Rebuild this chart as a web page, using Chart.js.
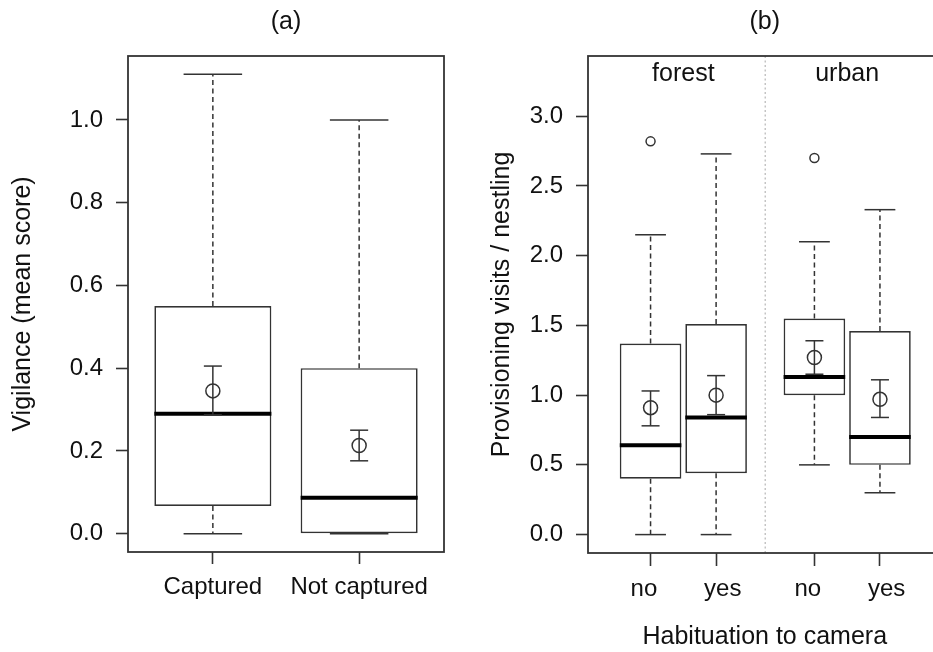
<!DOCTYPE html>
<html>
<head>
<meta charset="utf-8">
<script src="https://cdn.jsdelivr.net/npm/chart.js@4.4.1/dist/chart.umd.min.js"></script>
<style>
  html, body { margin: 0; padding: 0; background: #fff; overflow: hidden; width: 933px; height: 652px; }
  canvas { position: absolute; top: 0; }
</style>
</head>
<body>
<canvas id="chartA" width="460" height="652" style="left:0;width:460px;height:652px"></canvas>
<canvas id="chartB" width="490" height="652" style="left:460px;width:490px;height:652px"></canvas>
<script>
// ---- panel (a): vigilance ----
const vigGroups = ['Captured', 'Not captured'];
const vigPos = [1, 2];
const vigLow = [0, 0];
const vigQ1 = [0.067, 0.0];
const vigMedian = [0.29, 0.087];
const vigQ3 = [0.55, 0.40];
const vigHigh = [1.11, 1.0];
const vigMean = [0.345, 0.213];
const vigMeanLo = [0.287, 0.176];
const vigMeanHi = [0.405, 0.25];
const vigTicks = [0, 0.2, 0.4, 0.6, 0.8, 1.0];

// ---- panel (b): provisioning ----
const provHabit = ['no', 'yes', 'no', 'yes'];
const provPos = [1, 2, 3.5, 4.5];
const provLow = [0, 0, 0.5, 0.3];
const provQ1 = [0.40, 0.44, 1.0, 0.5];
const provMedian = [0.64, 0.84, 1.13, 0.70];
const provQ3 = [1.37, 1.51, 1.55, 1.46];
const provHigh = [2.15, 2.73, 2.10, 2.33];
const provOutX = [1, 3.5];
const provOutY = [2.82, 2.70];
const provMean = [0.91, 1.0, 1.27, 0.97];
const provMeanLo = [0.78, 0.86, 1.15, 0.84];
const provMeanHi = [1.03, 1.14, 1.39, 1.11];
const provTicks = [0, 0.5, 1.0, 1.5, 2.0, 2.5, 3.0];
const habitats = ['forest', 'urban'];
const habitatPos = [1.5, 4];
const habitatY = 3.3;
const habitatDivider = 2.75;

const FONT = '"Liberation Sans", Arial, sans-serif';
const INK = '#333';

// whiskers, medians, error bars, frame
const boxExtras = {
  id: 'boxExtras',
  afterDatasetsDraw(chart, args, o) {
    const { ctx, chartArea: a, scales: { x, y } } = chart;
    const bars = chart.getDatasetMeta(0).data;
    const seg = (x1, y1, x2, y2) => { ctx.beginPath(); ctx.moveTo(x1, y1); ctx.lineTo(x2, y2); ctx.stroke(); };
    ctx.save();
    if (o.divider != null) {
      const dx = x.getPixelForValue(o.divider);
      ctx.strokeStyle = '#c4c4c4';
      ctx.lineWidth = 1.5;
      ctx.setLineDash([2, 2.5]);
      seg(dx, a.top, dx, a.bottom);
      ctx.setLineDash([]);
    }
    o.pos.forEach((p, i) => {
      const cx = x.getPixelForValue(p);
      const w = bars[i].width;
      ctx.strokeStyle = INK;
      ctx.lineWidth = 1.5;
      ctx.setLineDash([5, 3.5]);
      if (o.high[i] > o.q3[i]) seg(cx, y.getPixelForValue(o.q3[i]), cx, y.getPixelForValue(o.high[i]));
      if (o.low[i] < o.q1[i]) seg(cx, y.getPixelForValue(o.q1[i]), cx, y.getPixelForValue(o.low[i]));
      ctx.setLineDash([]);
      [o.high[i], o.low[i]].forEach(v => {
        const py = y.getPixelForValue(v);
        seg(cx - w / 4, py, cx + w / 4, py);
      });
      // median
      const my = y.getPixelForValue(o.median[i]);
      ctx.strokeStyle = '#000';
      ctx.lineWidth = 4;
      seg(cx - w / 2, my, cx + w / 2, my);
      // mean +/- error
      ctx.strokeStyle = INK;
      ctx.lineWidth = 1.5;
      const yLo = y.getPixelForValue(o.lo[i]), yHi = y.getPixelForValue(o.hi[i]);
      seg(cx, yLo, cx, yHi);
      seg(cx - 9, yLo, cx + 9, yLo);
      seg(cx - 9, yHi, cx + 9, yHi);
    });
    ctx.strokeStyle = INK;
    ctx.lineWidth = 1.8;
    ctx.strokeRect(a.left, a.top, a.width, a.height);
    if (o.groups) {
      ctx.fillStyle = '#111';
      ctx.font = '25px ' + FONT;
      ctx.textAlign = 'center';
      ctx.textBaseline = 'middle';
      o.groups.forEach((g, i) => ctx.fillText(g, x.getPixelForValue(o.groupPos[i]), y.getPixelForValue(o.groupY)));
    }
    ctx.restore();
  }
};

function axisGrid(len) {
  return { display: true, drawOnChartArea: false, drawTicks: true, tickLength: len,
           tickColor: INK, tickWidth: 1.6, offset: false };
}

function makeChart(id, cfg) {
  return new Chart(document.getElementById(id), {
    type: 'bar',
    data: {
      datasets: [
        {
          order: 2,
          data: cfg.pos.map((p, i) => ({ x: p, y: [cfg.q1[i], cfg.q3[i]] })),
          backgroundColor: '#fff',
          borderColor: INK,
          borderWidth: 1.7,
          borderSkipped: false,
          categoryPercentage: cfg.boxFrac,
          barPercentage: 1
        },
        {
          type: 'scatter',
          order: 1,
          data: cfg.pos.map((p, i) => ({ x: p, y: cfg.mean[i] })),
          pointRadius: 7,
          pointBorderWidth: 1.5,
          pointBorderColor: INK,
          pointBackgroundColor: 'rgba(0,0,0,0)'
        },
        {
          type: 'scatter',
          order: 1,
          data: cfg.outX.map((p, i) => ({ x: p, y: cfg.outY[i] })),
          pointRadius: 4.5,
          pointBorderWidth: 1.5,
          pointBorderColor: INK,
          pointBackgroundColor: 'rgba(0,0,0,0)'
        }
      ]
    },
    options: {
      responsive: false,
      animation: false,
      events: [],
      layout: { padding: { left: 0, right: cfg.padRight, top: 0, bottom: 0 } },
      plugins: {
        legend: { display: false },
        tooltip: { enabled: false },
        title: {
          display: true, text: cfg.title, fullSize: false, color: '#111',
          font: { family: FONT, size: 25, weight: 'normal', lineHeight: 1.2 },
          padding: { top: 7, bottom: 19 }
        },
        boxExtras: cfg
      },
      scales: {
        x: {
          type: 'linear', min: cfg.xMin, max: cfg.xMax, offset: false,
          afterBuildTicks: s => { s.ticks = cfg.pos.map(v => ({ value: v })); },
          afterFit: s => { s.height = cfg.xHeight; },
          ticks: { autoSkip: false, maxRotation: 0, padding: 9, color: '#111',
                   font: { family: FONT, size: 24 }, callback: cfg.xLabel },
          grid: axisGrid(cfg.xTickLen),
          border: { display: false },
          title: { display: !!cfg.xTitle, text: cfg.xTitle || '', color: '#111',
                   font: { family: FONT, size: 25 }, padding: { top: 0, bottom: 0 } }
        },
        y: {
          type: 'linear', min: cfg.yMin, max: cfg.yMax,
          afterBuildTicks: s => { s.ticks = cfg.yTicks.map(v => ({ value: v })); },
          afterFit: s => { s.width = 128; },
          ticks: { padding: 13, color: '#111', font: { family: FONT, size: 24 },
                   callback: v => v.toFixed(1) },
          grid: axisGrid(12),
          border: { display: false },
          title: { display: true, text: cfg.yTitle, color: '#111',
                   font: { family: FONT, size: 25 }, padding: { top: cfg.yTitlePad, bottom: 0 } }
        }
      }
    },
    plugins: [boxExtras]
  });
}

makeChart('chartA', {
  title: '(a)', pos: vigPos, low: vigLow, q1: vigQ1, median: vigMedian, q3: vigQ3, high: vigHigh,
  mean: vigMean, lo: vigMeanLo, hi: vigMeanHi, outX: [], outY: [],
  boxFrac: 0.8, padRight: 16, xMin: 0.42, xMax: 2.58, xHeight: 100, xTickLen: 12,
  xLabel: (v, i) => vigGroups[i],
  yMin: -0.0444, yMax: 1.1544, yTicks: vigTicks,
  yTitle: 'Vigilance (mean score)', yTitlePad: 8
});

makeChart('chartB', {
  title: '(b)', pos: provPos, low: provLow, q1: provQ1, median: provMedian, q3: provQ3, high: provHigh,
  mean: provMean, lo: provMeanLo, hi: provMeanHi, outX: provOutX, outY: provOutY,
  boxFrac: 0.94, padRight: 6, xMin: 0.0455, xMax: 5.439, xHeight: 99, xTickLen: 13,
  xLabel: (v, i) => (i % 2 ? '  ' + provHabit[i] : provHabit[i] + '  '),
  xTitle: 'Habituation to camera',
  yMin: -0.132, yMax: 3.432, yTicks: provTicks,
  yTitle: 'Provisioning visits / nestling', yTitlePad: 27,
  divider: habitatDivider, groups: habitats, groupPos: habitatPos, groupY: habitatY
});
</script>
</body>
</html>
